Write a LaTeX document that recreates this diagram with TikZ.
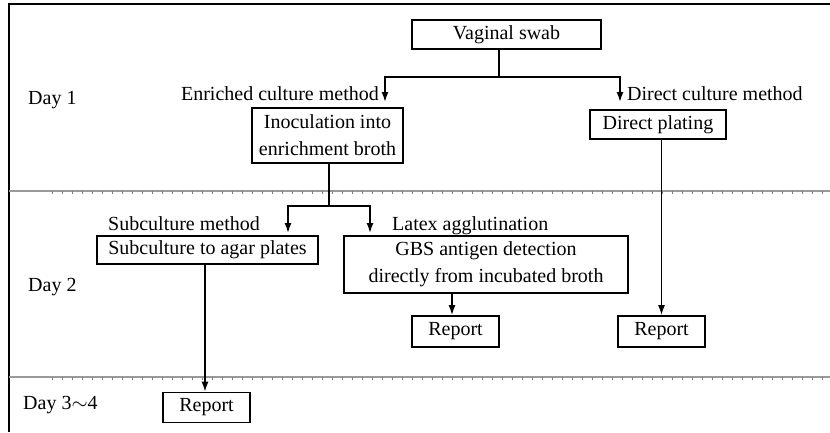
\documentclass[tikz,border=0pt]{standalone}
\usepackage{fontspec}
\setmainfont{Liberation Serif}
\usetikzlibrary{arrows.meta}

\begin{document}
\begin{tikzpicture}
  [
    x = 1pt, y = -1pt,
    every node/.style = {font = \fontsize{20}{27}\selectfont, inner sep = 0pt},
    box/.style = {draw, line width = 1.7pt, align = center},
    link/.style = {line width = 1.5pt},
    arrow/.style = {link, -{Latex[length = 10pt, width = 7pt]}},
    sep/.style = {gray!80, line width = 1.6pt}
  ]
  \useasboundingbox (0,0) rectangle (830,432);

  % frame and day separators
  \draw[line width = 2.2pt] (9,432) -- (9,4) -- (830,4);
  \draw[sep] (9,191) -- (830,191);
  \draw[sep] (9,377) -- (830,377);
  \foreach \x in {52,62,...,822} {
    \draw[gray, line width = 0.5pt] (\x,191) -- (\x,193.5);
    \draw[gray, line width = 0.5pt] (\x,377) -- (\x,379.5);
  }

  \node[anchor = base west] (Day1) at (28,104) {Day 1};
  \node[anchor = base west] (Day2) at (28,291) {Day 2};
  \node[anchor = base west] (Day3) at (23,409) {Day 3$\sim$4};

  % boxes
  \node[box, minimum width = 189pt, minimum height = 29pt] (Swab) at (506.5,34.5) {Vaginal swab};
  \node[box, minimum width = 151pt, minimum height = 55pt] (Inoc) at (327.5,135.5)
    {Inoculation into\\enrichment broth};
  \node[box, minimum width = 136pt, minimum height = 29pt] (Plate) at (658,124.5) {Direct plating};
  \node[box, minimum width = 221pt, minimum height = 28pt] (Sub) at (207.5,250) {Subculture to agar plates};
  \node[box, minimum width = 284pt, minimum height = 57pt] (GBS) at (486,264.5)
    {GBS antigen detection\\directly from incubated broth};
  \node[box, minimum width = 87pt, minimum height = 31pt] (RepA) at (455.5,331.5) {Report};
  \node[box, minimum width = 87pt, minimum height = 31pt] (RepB) at (661.5,331.5) {Report};
  \node[box, minimum width = 87pt, minimum height = 30pt] (RepC) at (206.5,407.5) {Report};

  % method labels
  \node[anchor = base east] (EnrLab) at (379,100) {Enriched culture method};
  \node[anchor = base west] (DirLab) at (627,100) {Direct culture method};
  \node[anchor = base west] (SubLab) at (108,230) {Subculture method};
  \node[anchor = base west] (LatLab) at (392,230) {Latex agglutination};

  % connectors
  \coordinate (SplitA) at (499,77);
  \coordinate (EnrTip) at (385,102);
  \coordinate (DirTip) at (620,102);
  \draw[link] (Swab.south -| SplitA) -- (SplitA);
  \draw[arrow] (SplitA) -| (EnrTip);
  \draw[arrow] (SplitA) -| (DirTip);

  \coordinate (SplitB) at (329,206);
  \coordinate (SubTip) at (288,233);
  \coordinate (LatTip) at (370,233);
  \draw[link] (Inoc.south -| SplitB) -- (SplitB);
  \draw[arrow] (SplitB) -| (SubTip);
  \draw[arrow] (SplitB) -| (LatTip);

  \draw[arrow] (GBS.south -| 452,0) -- (RepA.north -| 452,0);
  \draw[arrow] (Plate.south -| RepB) -- (RepB.north);
  \draw[arrow] (Sub.south -| 205,0) -- (RepC.north -| 205,0);
\end{tikzpicture}
\end{document}
